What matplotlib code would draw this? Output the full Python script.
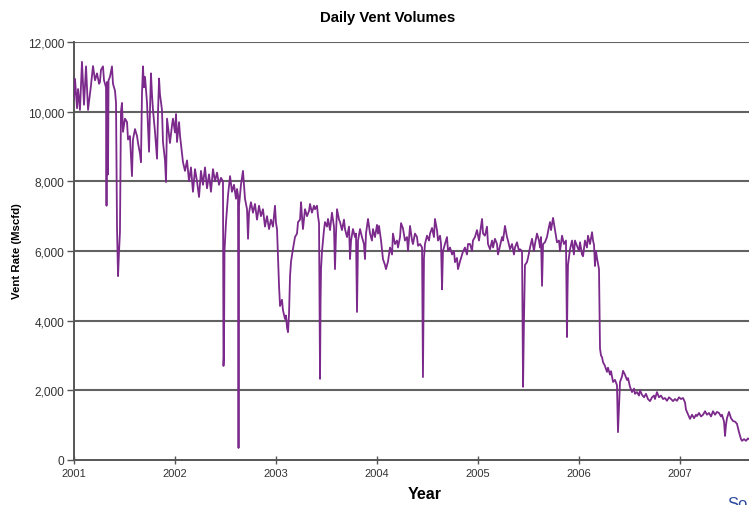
import numpy as np
import matplotlib.pyplot as plt
from matplotlib.ticker import FuncFormatter

# daily vent rate (Mscfd); offsets are fractions of each year
off_2001 = [0, .010, .030, .040, .059, .079, .099, .119, .139, .168, .188, .208, .228, .248, .257,
            .267, .287, .297, .317, .322, .327, .337, .342, .356, .376, .386, .406, .416, .426, .436,
            .446, .455, .465, .475, .485, .505, .525, .535, .554, .574, .584, .604, .624, .634, .653,
            .663, .673, .683, .693, .703, .723, .743, .752, .762, .772, .782, .802, .822, .832, .842,
            .851, .871, .881, .901, .911, .921, .941, .950, .970, .980]
val_2001 = [10360, 10940, 10100, 10650, 10050, 11430, 10200, 11300, 10050, 10750, 11310, 10900, 11100, 10800, 10850,
            11200, 11300, 10900, 10700, 7300, 10850, 8200, 10900, 11000, 11300, 10800, 10600, 10250, 6630, 5280,
            6000, 6540, 10000, 10250, 9420, 9800, 9700, 9200, 9300, 8150, 9200, 9500, 9300, 9100, 8800,
            8550, 10500, 11300, 10700, 11000, 10250, 8850, 10000, 11100, 10500, 10050, 9420, 8650, 10000, 10950,
            10500, 10050, 9130, 8600, 7980, 9800, 9300, 9100, 9600, 9800]

off_2002 = [0, .010, .020, .040, .050, .069, .079, .099, .119, .139, .158, .178, .198, .218, .238,
            .257, .277, .297, .317, .337, .356, .376, .396, .416, .436, .455, .465, .475, .480, .485,
            .490, .505, .525, .545, .564, .584, .604, .614, .624, .629, .634, .653, .673, .693, .713,
            .723, .733, .752, .772, .792, .812, .832, .851, .871, .891, .911, .931, .950, .970, .990]
val_2002 = [9400, 9930, 9130, 9700, 9300, 8800, 8550, 8300, 8600, 8000, 8400, 7700, 8350, 8000, 7550,
            8300, 7900, 8400, 7800, 8200, 7700, 8350, 8000, 8250, 7900, 8100, 8050, 8000, 2700, 3000,
            6000, 6830, 7600, 8150, 7700, 7900, 7500, 7780, 7600, 345, 7300, 7900, 8300, 7500, 7200,
            6350, 7100, 7400, 7100, 7350, 6900, 7300, 7000, 7200, 6700, 7000, 6630, 6900, 6700, 7300]

off_2003 = [0, .010, .020, .030, .040, .059, .069, .089, .099, .109, .119, .129, .139, .149, .168,
            .188, .208, .218, .238, .248, .257, .267, .287, .307, .327, .337, .356, .376, .386, .406,
            .416, .426, .436, .441, .446, .455, .475, .485, .505, .515, .535, .554, .574, .584, .594,
            .604, .624, .634, .653, .673, .683, .703, .723, .733, .743, .762, .782, .792, .802, .812,
            .832, .851, .871, .881, .891, .911, .931, .950, .960, .980]
val_2003 = [6800, 6630, 5800, 5000, 4420, 4600, 4300, 4050, 4150, 3800, 3670, 4200, 5280, 5700, 6060,
            6400, 6500, 6830, 6900, 7400, 7000, 6630, 7200, 7000, 7150, 7350, 7100, 7300, 7200, 7300,
            7000, 6800, 2330, 4500, 5500, 5970, 6600, 6830, 6700, 6920, 6600, 7100, 6700, 5480, 6500,
            7200, 6900, 6830, 6600, 6900, 6630, 6400, 6700, 5770, 6300, 6630, 6400, 6500, 4250, 6300,
            6630, 6400, 6200, 5770, 6500, 6920, 6500, 6300, 6630, 6400]

off_2004 = [0, .010, .020, .040, .059, .079, .089, .109, .129, .149, .158, .178, .198, .208, .228,
            .238, .257, .277, .297, .307, .327, .347, .356, .376, .396, .406, .426, .446, .455, .460,
            .465, .475, .495, .515, .525, .545, .564, .574, .594, .604, .624, .634, .644, .653, .673,
            .693, .703, .723, .743, .762, .772, .792, .802, .822, .842, .851, .871, .891, .901, .921,
            .941, .950, .970, .990]
val_2004 = [6750, 6500, 6720, 6300, 5770, 5600, 5480, 5700, 6100, 5900, 6500, 6200, 6300, 6100, 6400,
            6800, 6650, 6300, 6400, 6000, 6720, 6300, 6200, 6500, 6400, 6150, 6200, 6100, 2380, 4000,
            5800, 6200, 6440, 6300, 6500, 6660, 6400, 6920, 6600, 6300, 6440, 6200, 4900, 6000, 6200,
            6400, 6000, 6100, 5900, 6000, 5680, 5800, 5480, 5700, 5900, 5980, 6100, 5900, 6200, 6200,
            6000, 6300, 6400, 6600]

off_2005 = [.010, .030, .040, .050, .069, .089, .099, .119, .139, .149, .168, .188, .198, .218, .238,
            .248, .267, .287, .297, .317, .337, .356, .366, .386, .406, .416, .436, .446, .455, .465,
            .485, .495, .515, .535, .554, .564, .584, .604, .614, .624, .634, .644, .663, .683, .703,
            .713, .723, .743, .762, .782, .802, .812, .832, .851, .871, .881, .886, .891, .911, .931,
            .950, .960, .980]
val_2005 = [6300, 6700, 6920, 6500, 6440, 6700, 6200, 6050, 6300, 6100, 6350, 6200, 5900, 6150, 6400,
            6300, 6720, 6400, 6300, 6050, 6200, 5900, 6100, 6250, 6000, 6050, 6000, 2100, 4000, 5600,
            5680, 5800, 6100, 6350, 6000, 6200, 6500, 6300, 6100, 6400, 5000, 6200, 6250, 6400, 6700,
            6830, 6600, 6950, 6600, 6250, 6300, 6000, 6440, 6200, 6300, 3530, 4800, 5600, 6050, 6300,
            5900, 6300, 6150]

off_2006 = [0, .010, .030, .040, .059, .079, .089, .109, .129, .139, .149, .158, .168, .178, .198,
            .208, .218, .228, .238, .257, .277, .287, .307, .317, .337, .356, .376, .386, .396, .406,
            .426, .436, .455, .475, .485, .505, .525, .545, .554, .574, .594, .604, .624, .644, .663,
            .683, .703, .723, .743, .752, .772, .792, .812, .832, .851, .871, .891, .911, .931, .950,
            .970, .990]
val_2006 = [6000, 6250, 5900, 5850, 6300, 6100, 6440, 6200, 6540, 6300, 6170, 5570, 6000, 5800, 5480,
            3200, 3000, 2950, 2810, 2700, 2530, 2650, 2450, 2550, 2240, 2300, 2150, 800, 1500, 2240,
            2400, 2560, 2450, 2300, 2350, 2100, 1950, 2050, 1900, 1950, 1850, 2000, 1870, 1800, 1900,
            1750, 1690, 1800, 1850, 1750, 1950, 1800, 1850, 1750, 1780, 1700, 1800, 1750, 1690, 1750,
            1700, 1800]

off_2007 = [.010, .030, .050, .059, .069, .089, .099, .119, .139, .158, .168, .188, .208, .228, .248,
            .267, .287, .307, .327, .347, .366, .386, .406, .416, .436, .446, .455, .465, .485, .505,
            .525, .545, .564, .584, .604, .614, .634, .653, .673, .693]
val_2007 = [1750, 1780, 1650, 1450, 1380, 1250, 1180, 1300, 1200, 1300, 1260, 1350, 1250, 1300, 1400,
            1300, 1350, 1250, 1400, 1300, 1380, 1350, 1250, 1300, 1100, 690, 1000, 1200, 1380, 1200,
            1120, 1100, 1040, 800, 600, 550, 600, 550, 620, 580]

years = [2001, 2002, 2003, 2004, 2005, 2006, 2007]
offsets = [off_2001, off_2002, off_2003, off_2004, off_2005, off_2006, off_2007]
values = [val_2001, val_2002, val_2003, val_2004, val_2005, val_2006, val_2007]

t = np.concatenate([y + np.array(o) for y, o in zip(years, offsets)])
v = np.concatenate([np.array(vv, dtype=float) for vv in values])

plt.rcParams['font.family'] = ['Liberation Sans', 'DejaVu Sans']

fig = plt.figure(figsize=(7.49, 5.06), dpi=100)
ax = fig.add_axes([74 / 749, 1 - 461 / 506, 675 / 749, 418 / 506])

for yg in range(2000, 12001, 2000):
    ax.axhline(yg, color='#626262', lw=1.5, zorder=1)
ax.plot(t, v, color='#7b2a8b', lw=1.3, zorder=3)

ax.set_xlim(2001, 2001 + 675 / 101)
ax.set_ylim(0, 12000)
ax.set_xticks(years)
ax.set_xticklabels([str(y) for y in years])
ax.set_yticks(range(0, 12001, 2000))
ax.yaxis.set_major_formatter(FuncFormatter(lambda x, p: f'{int(x):,}'))

for side in ['top', 'right']:
    ax.spines[side].set_visible(False)
for side in ['left', 'bottom']:
    ax.spines[side].set_color('#555555')
    ax.spines[side].set_linewidth(1.4)
ax.tick_params(axis='y', direction='out', length=5, width=1, color='#555555',
               labelsize=8.6, labelcolor='#333333', pad=2)
ax.tick_params(axis='x', direction='inout', length=6, width=1, color='#555555',
               labelsize=8, labelcolor='#333333', pad=3)

fig.text(388 / 749, 1 - 18 / 506, 'Daily Vent Volumes', ha='center', va='center',
         fontsize=10.7, fontweight='bold')
fig.text(17 / 749, 1 - 251 / 506, 'Vent Rate (Mscfd)', ha='center', va='center',
         rotation=90, fontsize=8.2, fontweight='bold')
fig.text(425 / 749, 1 - 495 / 506, 'Year', ha='center', va='center',
         fontsize=11.5, fontweight='bold')
fig.text(727 / 749, 1 - 497 / 506, 'So', ha='left', va='top', fontsize=12, color='#2c4a9c')

fig.savefig('out.png', dpi=100)
